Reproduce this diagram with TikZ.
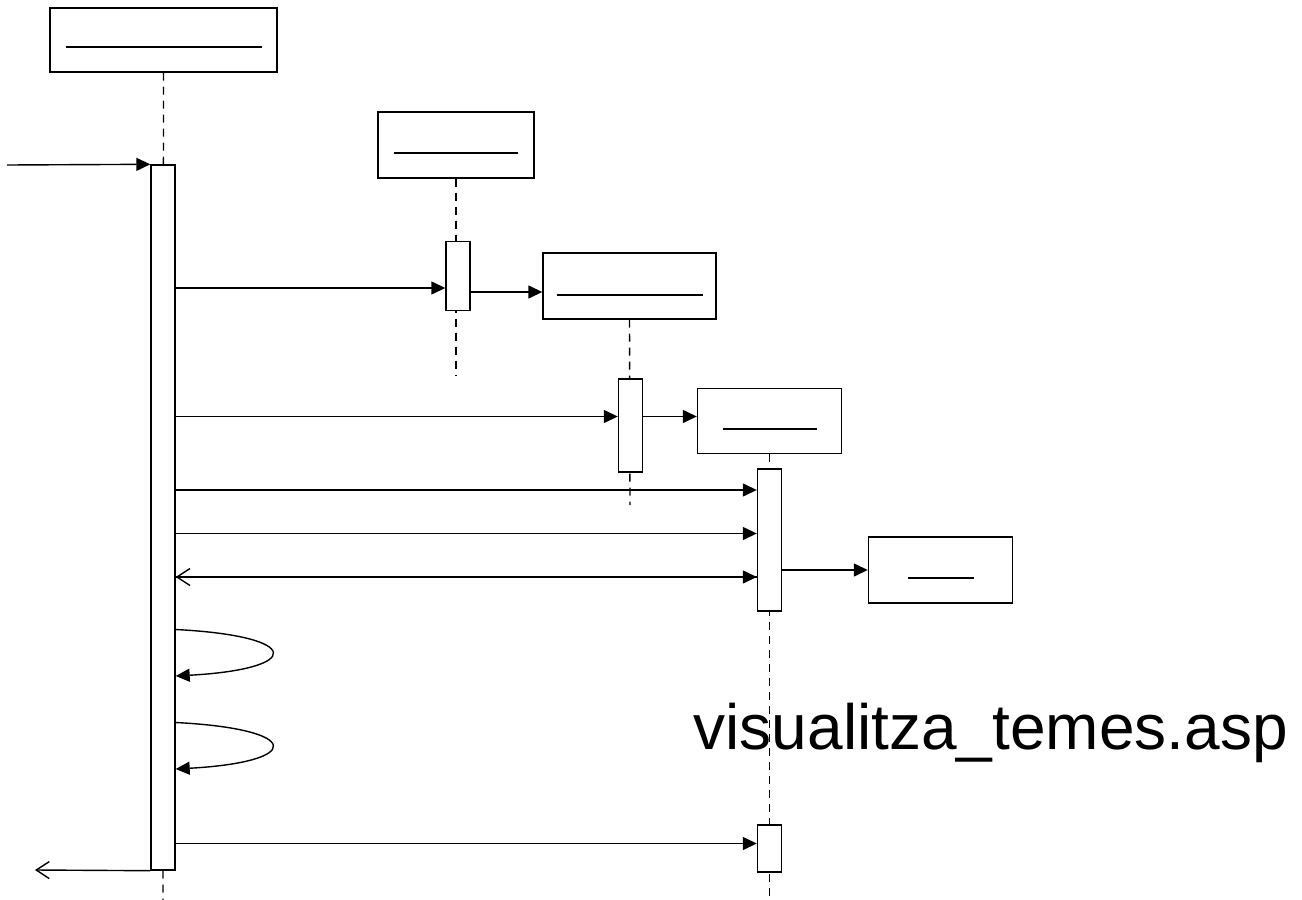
\documentclass[tikz,border=0pt]{standalone}
\usepackage{fontspec}
\newfontfamily\arialfont{Liberation Sans}
\usetikzlibrary{arrows.meta}

\begin{document}
\begin{tikzpicture}[x=0.5pt,y=-0.5pt,line width=0.7pt]
        \tikzset{objbox/.style={rectangle, draw=black, fill=white, inner sep=0pt},
                 actbar/.style={rectangle, draw=black, fill=white, inner sep=0pt, minimum width=12pt},
                 lifeline/.style={dash pattern=on 4pt off 3pt},
                 msg/.style={-{Triangle[length=7pt,width=6.5pt]}},
                 ret/.style={-{Straight Barb[length=6.5pt,width=8.5pt]}}}
        \useasboundingbox (0,0) rectangle (1302,900);

	%---NODES---
        \node[objbox, minimum width=113.5pt, minimum height=32pt] (objA) at (163.5,40) {};
        \node[objbox, minimum width=78pt, minimum height=33pt] (objB) at (456,145) {};
        \node[objbox, minimum width=86.5pt, minimum height=33pt] (objC) at (629.5,286) {};
        \node[objbox, minimum width=72pt, minimum height=32.5pt] (objD) at (769.5,421) {};
        \node[objbox, minimum width=72pt, minimum height=33pt] (objE) at (940.5,570) {};

        \coordinate (endA) at (163,900);
        \coordinate (endB) at (456,376);
        \coordinate (endC) at (630,505);
        \coordinate (endD) at (769.5,900);

	%---LIFELINES---
        \draw[lifeline] (objA.south) -- (endA);
        \draw[lifeline] (objB.south) -- (endB);
        \draw[lifeline] (objC.south) -- (endC);
        \draw[lifeline] (objD.south) -- (endD);

	%---NAMES (underlined, empty)---
        \draw ([xshift=-49pt,yshift=-3.5pt]objA.center) -- ([xshift=49pt,yshift=-3.5pt]objA.center);
        \draw ([xshift=-31pt,yshift=-4pt]objB.center) -- ([xshift=31pt,yshift=-4pt]objB.center);
        \draw ([xshift=-36.5pt,yshift=-4.5pt]objC.center) -- ([xshift=36.5pt,yshift=-4.5pt]objC.center);
        \draw ([xshift=-23.5pt,yshift=-4pt]objD.center) -- ([xshift=23.5pt,yshift=-4pt]objD.center);
        \draw ([xshift=-16.5pt,yshift=-4pt]objE.center) -- ([xshift=16.5pt,yshift=-4pt]objE.center);

	%---ACTIVATIONS---
        \node[actbar, minimum height=352.5pt] (barA) at (163,517.5) {};
        \node[actbar, minimum height=34.5pt] (barB) at (458,276) {};
        \node[actbar, minimum height=46.5pt] (barC) at (630.5,425.5) {};
        \node[actbar, minimum height=71pt] (barD) at (769.5,540) {};
        \node[actbar, minimum height=23.5pt] (barD2) at (769.5,848.5) {};

        \coordinate (start) at (7,165);
        \coordinate (finish) at (35,870);
        \coordinate (y1) at (0,288);
        \coordinate (y2) at (0,292);
        \coordinate (y3) at (0,416.5);
        \coordinate (y4) at (0,490);
        \coordinate (y5) at (0,533.5);
        \coordinate (y6) at (0,577);
        \coordinate (y7) at (0,843.5);
        \coordinate (s1) at (0,629.5);
        \coordinate (e1) at (0,676);
        \coordinate (s2) at (0,722.5);
        \coordinate (e2) at (0,769);

	%---EDGES---
        \draw[msg]   (start) -- (barA.north west) ;
        \draw[msg]   (barA.east |- y1) -- (barB.west |- y1) ;
        \draw[msg]   (barB.east |- y2) -- (objC.west |- y2) ;
        \draw[msg]   (barA.east |- y3) -- (barC.west |- y3) ;
        \draw[msg]   (barC.east |- y3) -- (objD.west |- y3) ;
        \draw[msg]   (barA.east |- y4) -- (barD.west |- y4) ;
        \draw[msg]   (barA.east |- y5) -- (barD.west |- y5) ;
        \draw[msg]   (barA.east |- y6) -- (barD.west |- y6) ;
        \draw[ret]   (barD.west |- y6) -- (barA.east |- y6) ;
        \draw[msg]   (barD.east |- objE.west) -- (objE.west) ;
        \draw[msg]   (barA.east |- s1) .. controls +(128,6.5) and +(128,-7) .. (barA.east |- e1) ;
        \draw[msg]   (barA.east |- s2) .. controls +(128,6.5) and +(128,-7) .. (barA.east |- e2) ;
        \draw[msg]   (barA.east |- y7) -- (barD2.west |- y7) ;
        \draw[ret]   (barA.south west) -- (finish) ;

	%---LABELS---
        \node[anchor=base west, inner sep=0pt] (page) at (693,749) {\arialfont\fontsize{32}{38}\selectfont visualitza\_temes.asp};

\end{tikzpicture}
\end{document}
